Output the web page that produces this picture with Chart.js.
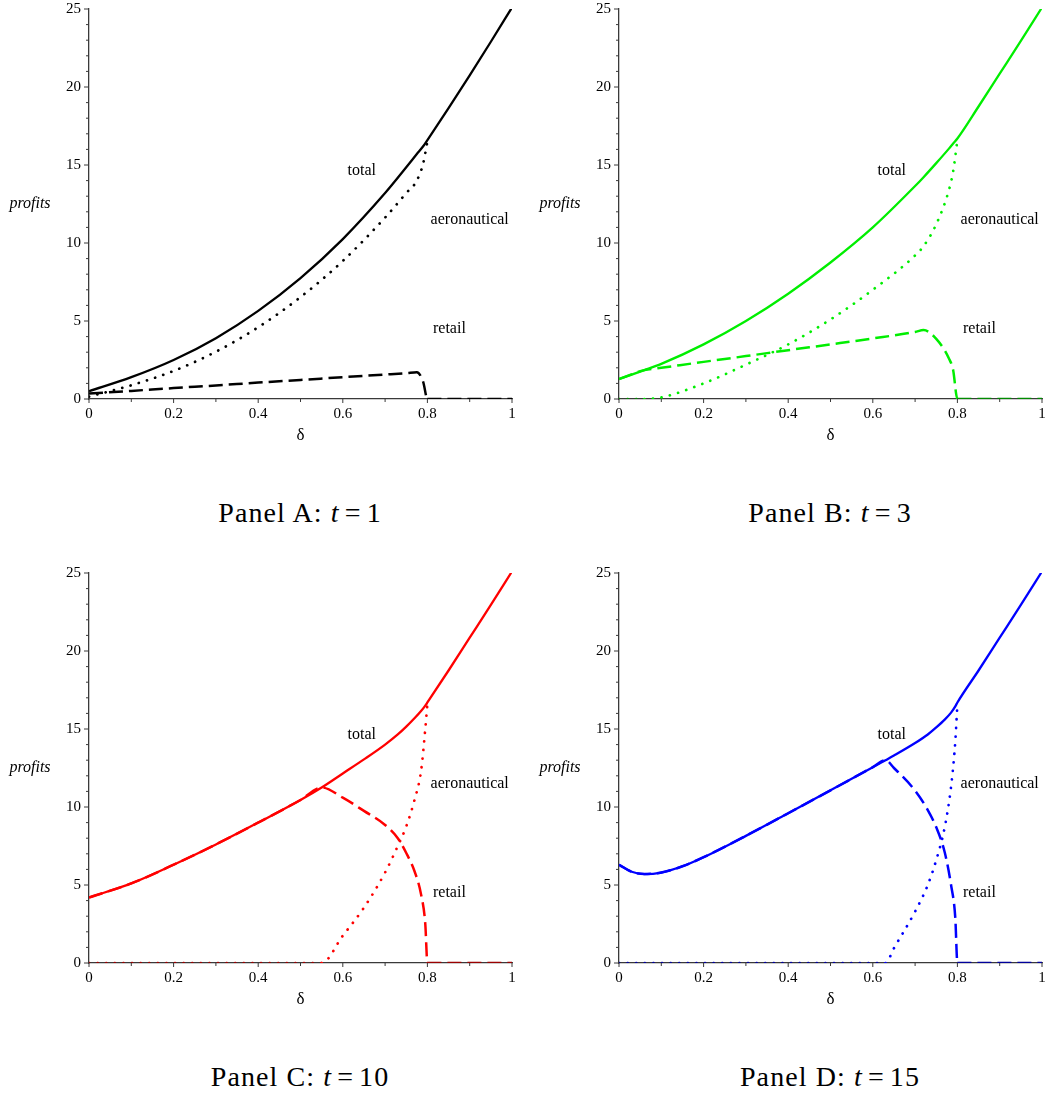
<!DOCTYPE html>
<html>
<head>
<meta charset="utf-8">
<title>Airport profits against delta</title>
<script src="https://cdn.jsdelivr.net/npm/chart.js@4.4.1/dist/chart.umd.min.js"></script>
<style>
  html, body { margin: 0; padding: 0; background: #fff; overflow: hidden; }
  body { position: relative; width: 1048px; height: 1094px; }
  canvas { position: absolute; }
  .caption {
    position: absolute; width: 400px; text-align: center;
    font-family: 'Liberation Serif', serif; font-size: 28px; line-height: 30px; color: #000;
    letter-spacing: 1.1px;
  }
  .caption .eq { margin: 0 5px; }
</style>
</head>
<body>
<canvas id="panelA" width="518" height="450" style="left:0;top:0"></canvas>
<canvas id="panelB" width="518" height="450" style="left:530px;top:0"></canvas>
<canvas id="panelC" width="518" height="450" style="left:0;top:564px"></canvas>
<canvas id="panelD" width="518" height="450" style="left:530px;top:564px"></canvas>
<div class="caption" style="left:100px;top:498px">Panel A: <i>t</i><span class="eq">=</span>1</div>
<div class="caption" style="left:630px;top:498px">Panel B: <i>t</i><span class="eq">=</span>3</div>
<div class="caption" style="left:100px;top:1062px">Panel C: <i>t</i><span class="eq">=</span>10</div>
<div class="caption" style="left:630px;top:1062px">Panel D: <i>t</i><span class="eq">=</span>15</div>
<script>
// Panel A: t = 1
const deltaA  = [0, 0.1, 0.2, 0.3, 0.4, 0.5, 0.6, 0.7, 0.75, 0.775, 0.79, 0.8, 0.85, 0.9, 0.95, 1];
const totalA  = [0.5, 1.4, 2.5, 3.9, 5.65, 7.75, 10.25, 13.2, 14.85, 15.7, 16.2, 16.6, 18.65, 20.75, 22.9, 25.1];
const aeroA   = [0.15, 0.88, 1.8, 3.03, 4.6, 6.53, 8.85, 11.63, 13.2, 14.0, 15.1, 16.5, null, null, null, null];
const retailA = [0.35, 0.52, 0.7, 0.87, 1.05, 1.22, 1.4, 1.57, 1.66, 1.72, 1.1, 0, 0, 0, 0, 0];

// Panel B: t = 3
const deltaB  = [0, 0.06, 0.1, 0.2, 0.3, 0.4, 0.5, 0.6, 0.7, 0.72, 0.75, 0.78, 0.79, 0.8, 0.85, 0.9, 0.95, 1];
const totalB  = [1.28, 1.85, 2.25, 3.5, 5.0, 6.75, 8.75, 11.0, 13.65, 14.22, 15.12, 16.05, 16.38, 16.7, 18.75, 20.85, 22.95, 25.1];
const aeroB   = [0, 0, 0.1, 1.0, 2.2, 3.5, 5.1, 7.0, 9.2, 9.8, 11.2, 13.4, 14.6, 16.6, null, null, null, null];
const retailB = [1.28, 1.85, 2.0, 2.38, 2.75, 3.13, 3.5, 3.88, 4.3, 4.42, 3.85, 2.6, 1.85, 0, 0, 0, 0, 0];

// Panel C: t = 10
const deltaC  = [0, 0.1, 0.2, 0.3, 0.4, 0.5, 0.55, 0.6, 0.65, 0.7, 0.73, 0.75, 0.77, 0.785, 0.795, 0.8, 0.85, 0.9, 0.95, 1];
const totalC  = [4.2, 5.1, 6.3, 7.6, 9.0, 10.45, 11.25, 12.15, 13.05, 14.0, 14.65, 15.15, 15.7, 16.15, 16.5, 16.7, 18.75, 20.85, 22.95, 25.1];
const aeroC   = [0, 0, 0, 0, 0, 0, 0, 1.75, 3.55, 5.8, 7.5, 8.75, 10.5, 12.3, 15.0, 16.6, null, null, null, null];
const retailC = [4.2, 5.1, 6.3, 7.6, 9.0, 10.45, 11.25, 10.6, 9.75, 8.85, 8.0, 7.05, 5.85, 4.4, 2.5, 0, 0, 0, 0, 0];

// Panel D: t = 15
const deltaD  = [0, 0.03, 0.06, 0.1, 0.15, 0.2, 0.3, 0.4, 0.5, 0.6, 0.63, 0.65, 0.7, 0.73, 0.75, 0.77, 0.785, 0.795, 0.8, 0.85, 0.9, 0.95, 1];
const totalD  = [6.3, 5.85, 5.7, 5.8, 6.2, 6.78, 8.15, 9.6, 11.07, 12.55, 13.0, 13.3, 14.1, 14.65, 15.1, 15.6, 16.05, 16.45, 16.7, 18.75, 20.85, 22.95, 25.1];
const aeroD   = [0, 0, 0, 0, 0, 0, 0, 0, 0, 0, 0, 0.95, 3.3, 5.0, 6.6, 8.7, 11.3, 14.2, 16.6, null, null, null, null];
const retailD = [6.3, 5.85, 5.7, 5.8, 6.2, 6.78, 8.15, 9.6, 11.07, 12.55, 13.0, 12.5, 11.05, 9.8, 8.7, 7.1, 5.0, 2.9, 0, 0, 0, 0, 0];

// axes
const xTicks = [0, 0.2, 0.4, 0.6, 0.8, 1];
const xMinor = [0.1, 0.3, 0.5, 0.7, 0.9];
const yTicks = [0, 5, 10, 15, 20, 25];
const yMinor = [1, 2, 3, 4, 6, 7, 8, 9, 11, 12, 13, 14, 16, 17, 18, 19, 21, 22, 23, 24];

// text placed inside every panel, in data units
const curveLabels = [
  {text: 'total', x: 0.645, y: 14.6},
  {text: 'aeronautical', x: 0.9, y: 11.5},
  {text: 'retail', x: 0.852, y: 4.5},
];

const axisColor = '#3a3a3a';
const serif = "'Liberation Serif', 'Times New Roman', serif";

const panels = [
  {id: 'panelA', color: '#000000', dark: '#000000', delta: deltaA, total: totalA, aero: aeroA, retail: retailA},
  {id: 'panelB', color: '#00ee00', dark: '#008a00', delta: deltaB, total: totalB, aero: aeroB, retail: retailB},
  {id: 'panelC', color: '#ff0000', dark: '#9a0000', delta: deltaC, total: totalC, aero: aeroC, retail: retailC},
  {id: 'panelD', color: '#0000ff', dark: '#00009a', delta: deltaD, total: totalD, aero: aeroD, retail: retailD},
];

const decor = {
  id: 'decor',
  afterDatasetsDraw(chart) {
    const {ctx, chartArea, scales: {x, y}} = chart;
    ctx.save();
    ctx.strokeStyle = axisColor;
    ctx.lineWidth = 1;
    const tick = (px, py, dx, dy) => {
      ctx.beginPath(); ctx.moveTo(px, py); ctx.lineTo(px + dx, py + dy); ctx.stroke();
    };
    yTicks.forEach(v => tick(chartArea.left, y.getPixelForValue(v), -5, 0));
    yMinor.forEach(v => tick(chartArea.left, y.getPixelForValue(v), -3, 0));
    xTicks.forEach(v => tick(x.getPixelForValue(v), chartArea.bottom, 0, 4));
    xMinor.forEach(v => tick(x.getPixelForValue(v), chartArea.bottom, 0, 3));

    ctx.fillStyle = '#000';
    ctx.textAlign = 'center';
    ctx.textBaseline = 'middle';
    ctx.font = '16px ' + serif;
    curveLabels.forEach(l => ctx.fillText(l.text, x.getPixelForValue(l.x), y.getPixelForValue(l.y)));
    ctx.font = 'italic 16px ' + serif;
    ctx.fillText('profits', 30, (chartArea.top + chartArea.bottom) / 2);
    ctx.restore();
  }
};

function makeChart(p) {
  const pts = arr => p.delta.map((d, i) => ({x: d, y: arr[i]}));
  const onAxis = c => (c.p0.parsed.y === 0 && c.p1.parsed.y === 0) ? p.dark : undefined;
  const common = {pointRadius: 0, fill: false, cubicInterpolationMode: 'monotone', segment: {borderColor: onAxis}};

  return new Chart(document.getElementById(p.id), {
    type: 'line',
    data: {
      datasets: [
        {...common, label: 'total', data: pts(p.total), borderColor: p.color, borderWidth: 2.3},
        {...common, label: 'aeronautical', data: pts(p.aero), borderColor: p.color, borderWidth: 2.7,
          borderDash: [0.1, 8.5], borderCapStyle: 'round'},
        {...common, label: 'retail', data: pts(p.retail), borderColor: p.color, borderWidth: 2.5,
          borderDash: [14, 6]},
      ],
    },
    options: {
      responsive: false,
      animation: false,
      layout: {padding: {top: 9, right: 6, left: 0, bottom: 0}},
      plugins: {legend: {display: false}, tooltip: {enabled: false}},
      scales: {
        x: {
          type: 'linear', min: 0, max: 1,
          afterBuildTicks: s => { s.ticks = xTicks.map(v => ({value: v})); },
          afterFit: s => { s.height = 51; s.paddingLeft = 0; s.paddingRight = 0; },
          grid: {display: false, drawTicks: false},
          border: {display: true, color: axisColor, width: 1.3},
          ticks: {padding: 6, color: '#000', maxRotation: 0, autoSkip: false,
            font: {family: serif, size: 15}, callback: v => String(v)},
          title: {display: true, text: 'δ', color: '#000',
            font: {family: serif, size: 17}, padding: {top: 0, bottom: 4}},
        },
        y: {
          type: 'linear', min: 0, max: 25,
          afterBuildTicks: s => { s.ticks = yTicks.map(v => ({value: v})); },
          afterFit: s => { s.width = 89; s.paddingTop = 0; s.paddingBottom = 0; },
          grid: {display: false, drawTicks: false},
          border: {display: true, color: axisColor, width: 1.3},
          ticks: {padding: 8, color: '#000', autoSkip: false, font: {family: serif, size: 15}},
        },
      },
    },
    plugins: [decor],
  });
}

panels.forEach(makeChart);
</script>
</body>
</html>
